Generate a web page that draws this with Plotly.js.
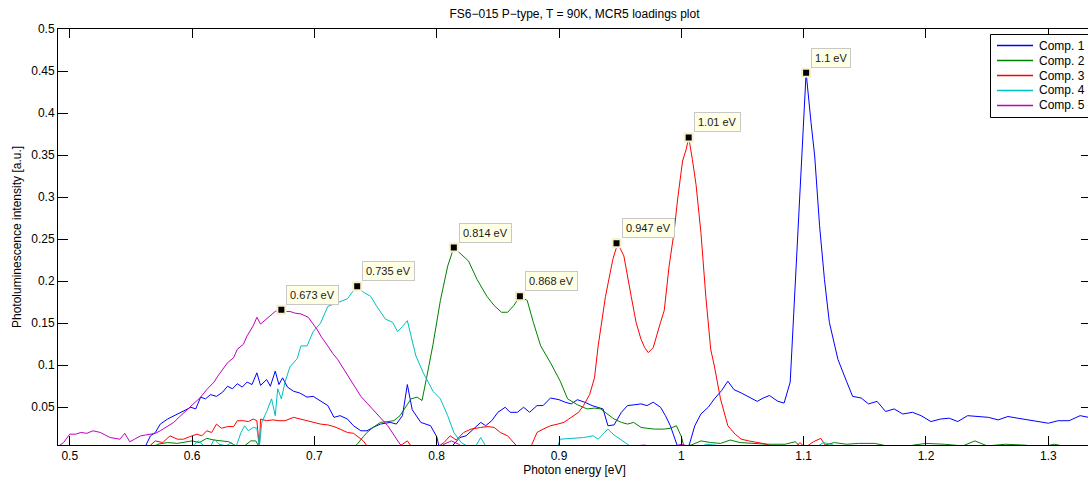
<!DOCTYPE html>
<html>
<head>
<meta charset="utf-8">
<script src="https://cdn.plot.ly/plotly-3.0.1.min.js"></script>
<style>
html,body{margin:0;padding:0;overflow:hidden;background:#fff;}
#chart{width:1100px;height:483px;}
</style>
</head>
<body>
<div id="chart"></div>
<script>
// ---------- data ----------
const seriesNames = ["Comp. 1", "Comp. 2", "Comp. 3", "Comp. 4", "Comp. 5"];

const comp1X = [0.49,0.555,0.562,0.566,0.570,0.574,0.580,0.585,0.590,0.595,0.599,0.603,0.607,0.611,0.615,0.620,0.625,0.629,0.633,0.637,0.641,0.645,0.649,0.653,0.656,0.661,0.664,0.668,0.671,0.674,0.678,0.683,0.688,0.694,0.699,0.705,0.711,0.716,0.721,0.727,0.732,0.738,0.743,0.748,0.754,0.758,0.762,0.767,0.772,0.776,0.780,0.787,0.795,0.800,0.802,0.812,0.819,0.824,0.830,0.836,0.840,0.845,0.850,0.856,0.860,0.866,0.871,0.876,0.882,0.887,0.893,0.900,0.905,0.910,0.915,0.921,0.927,0.932,0.936,0.940,0.945,0.951,0.956,0.962,0.967,0.972,0.977,0.983,0.987,0.991,0.997,1.006,1.011,1.016,1.022,1.027,1.033,1.038,1.043,1.049,1.054,1.058,1.062,1.067,1.072,1.079,1.084,1.089,1.091,1.095,1.099,1.102,1.106,1.109,1.113,1.117,1.121,1.124,1.128,1.135,1.140,1.147,1.153,1.160,1.167,1.174,1.181,1.189,1.196,1.204,1.212,1.219,1.226,1.234,1.242,1.251,1.259,1.267,1.275,1.284,1.292,1.300,1.308,1.317,1.326,1.333,1.34];
const comp1Y = [0,0,0.004,0.016,0.020,0.030,0.036,0.040,0.044,0.047,0.050,0.048,0.062,0.060,0.065,0.063,0.068,0.075,0.072,0.078,0.074,0.080,0.077,0.091,0.076,0.083,0.075,0.093,0.077,0.085,0.074,0.069,0.067,0.062,0.063,0.057,0.052,0.038,0.040,0.036,0.028,0.022,0.022,0.026,0.030,0.031,0.032,0.030,0.040,0.077,0.047,0.032,0.028,0.015,0.003,0.003,0.014,0.016,0.024,0.032,0.028,0.034,0.044,0.050,0.044,0.044,0.050,0.044,0.052,0.052,0.061,0.059,0.056,0.054,0.059,0.056,0.052,0.050,0.048,0.028,0.029,0.044,0.052,0.053,0.054,0.052,0.056,0.050,0.040,0.028,0.003,0.003,0.028,0.042,0.050,0.060,0.070,0.081,0.071,0.067,0.063,0.060,0.057,0.061,0.064,0.057,0.055,0.080,0.135,0.250,0.369,0.448,0.389,0.349,0.266,0.202,0.151,0.133,0.107,0.081,0.063,0.061,0.054,0.057,0.045,0.048,0.042,0.044,0.040,0.033,0.036,0.037,0.033,0.040,0.039,0.038,0.035,0.039,0.037,0.035,0.033,0.031,0.034,0.034,0.040,0.038,0.037];

const comp2X = [0.49,0.565,0.572,0.580,0.588,0.595,0.600,0.606,0.612,0.618,0.624,0.630,0.636,0.642,0.648,0.652,0.655,0.66,0.73,0.735,0.740,0.743,0.748,0.754,0.760,0.765,0.770,0.775,0.779,0.784,0.788,0.792,0.797,0.803,0.809,0.814,0.820,0.826,0.833,0.841,0.847,0.853,0.858,0.863,0.868,0.874,0.879,0.885,0.893,0.901,0.907,0.915,0.923,0.929,0.934,0.940,0.945,0.951,0.956,0.961,0.967,0.972,0.978,0.986,0.991,0.996,1.000,1.002,1.008,1.016,1.024,1.032,1.040,1.048,1.058,1.070,1.085,1.093,1.097,1.105,1.115,1.125,1.135,1.145,1.158,1.168,1.180,1.190,1.200,1.215,1.230,1.240,1.250,1.265,1.280,1.295,1.305,1.315,1.34];
const comp2Y = [0,0,0.006,0.008,0.007,0.009,0.010,0.008,0.013,0.011,0.010,0.009,0.004,0.003,0.010,0.010,0.003,0,0,0.006,0.015,0.020,0.026,0.032,0.033,0.034,0.040,0.052,0.060,0.062,0.058,0.087,0.125,0.177,0.218,0.240,0.232,0.224,0.202,0.182,0.171,0.163,0.163,0.171,0.182,0.177,0.151,0.123,0.103,0.081,0.060,0.053,0.048,0.049,0.048,0.042,0.036,0.032,0.030,0.032,0.026,0.025,0.024,0.024,0.025,0.028,0.015,0.004,0.005,0.010,0.008,0.007,0.011,0.008,0.007,0.006,0.006,0.009,0.004,0.002,0.004,0.008,0.006,0.007,0.007,0.004,0.002,0.005,0.007,0.006,0.004,0.010,0.004,0.006,0.005,0.003,0.006,0.003,0.004];

const comp3X = [0.49,0.560,0.566,0.570,0.576,0.582,0.588,0.593,0.598,0.604,0.608,0.612,0.616,0.620,0.624,0.629,0.634,0.637,0.642,0.646,0.650,0.653,0.655,0.656,0.661,0.666,0.671,0.676,0.683,0.688,0.694,0.699,0.705,0.711,0.716,0.721,0.727,0.732,0.736,0.740,0.743,0.748,0.765,0.770,0.776,0.780,0.800,0.806,0.811,0.816,0.822,0.828,0.836,0.842,0.847,0.852,0.858,0.862,0.866,0.877,0.882,0.887,0.893,0.899,0.904,0.908,0.912,0.916,0.920,0.925,0.929,0.932,0.938,0.944,0.948,0.953,0.959,0.963,0.967,0.970,0.973,0.977,0.983,0.986,0.990,0.994,0.997,1.001,1.004,1.006,1.009,1.012,1.016,1.020,1.024,1.027,1.032,1.038,1.044,1.049,1.055,1.062,1.070,1.075,1.093,1.097,1.101,1.108,1.114,1.118,1.125,1.34];
const comp3Y = [0,0,0.005,0.010,0.008,0.016,0.012,0.012,0.015,0.018,0.016,0.022,0.020,0.030,0.025,0.027,0.027,0.034,0.034,0.033,0.036,0.034,0.002,0.036,0.034,0.035,0.034,0.034,0.038,0.036,0.034,0.032,0.030,0.029,0.027,0.024,0.020,0.019,0.014,0.010,0.004,0,0,0.004,0.010,0.002,0.002,0.008,0.016,0.011,0.020,0.024,0.026,0.027,0.026,0.020,0.016,0.010,0.003,0.003,0.020,0.024,0.028,0.030,0.032,0.036,0.040,0.044,0.052,0.065,0.085,0.123,0.182,0.226,0.245,0.230,0.182,0.151,0.131,0.121,0.115,0.121,0.151,0.165,0.218,0.258,0.298,0.343,0.357,0.371,0.345,0.315,0.258,0.182,0.119,0.099,0.060,0.028,0.018,0.012,0.010,0.008,0.006,0.002,0.002,0.008,0.002,0.009,0.013,0.004,0,0];

const comp4X = [0.49,0.598,0.602,0.605,0.610,0.615,0.618,0.622,0.628,0.632,0.636,0.640,0.643,0.646,0.650,0.653,0.655,0.657,0.661,0.665,0.668,0.670,0.673,0.676,0.680,0.686,0.689,0.694,0.699,0.705,0.711,0.716,0.721,0.727,0.731,0.735,0.740,0.746,0.751,0.758,0.764,0.768,0.772,0.776,0.783,0.789,0.797,0.803,0.809,0.814,0.820,0.826,0.832,0.836,0.840,0.846,0.85,0.898,0.901,0.910,0.920,0.928,0.932,0.936,0.940,0.945,0.950,0.955,0.960,1.015,1.020,1.028,1.035,1.110,1.116,1.122,1.130,1.34];
const comp4Y = [0,0,0.006,0.010,0.004,0.003,0.012,0.006,0.004,0.008,0.003,0.020,0.028,0.022,0.026,0.025,0.003,0.032,0.045,0.060,0.040,0.072,0.060,0.080,0.098,0.108,0.123,0.123,0.140,0.150,0.170,0.173,0.176,0.179,0.187,0.194,0.187,0.182,0.170,0.155,0.151,0.140,0.146,0.153,0.111,0.091,0.069,0.060,0.040,0.020,0.008,0.003,0.004,0.014,0.004,0.003,0,0,0.012,0.013,0.014,0.016,0.012,0.018,0.024,0.017,0.012,0.006,0.002,0.002,0.006,0.005,0.002,0.002,0.008,0.006,0.002,0];

const comp5X = [0.49,0.495,0.500,0.505,0.509,0.514,0.519,0.525,0.529,0.533,0.537,0.541,0.545,0.549,0.553,0.558,0.562,0.566,0.570,0.574,0.580,0.585,0.590,0.596,0.601,0.607,0.612,0.618,0.621,0.625,0.629,0.634,0.637,0.642,0.645,0.650,0.653,0.656,0.661,0.665,0.668,0.673,0.677,0.680,0.684,0.689,0.695,0.702,0.706,0.711,0.715,0.719,0.723,0.727,0.733,0.738,0.743,0.748,0.754,0.760,0.765,0.770,0.775,0.800,0.806,0.812,0.818,0.822,0.86,0.865,0.875,0.88,0.95,0.960,0.970,0.975,0.995,1.000,1.005,1.01,1.34];
const comp5Y = [0.003,0.008,0.018,0.018,0.020,0.019,0.022,0.020,0.017,0.014,0.013,0.012,0.019,0.009,0.012,0.016,0.017,0.018,0.019,0.022,0.027,0.032,0.039,0.047,0.054,0.062,0.071,0.080,0.087,0.095,0.103,0.109,0.119,0.125,0.135,0.147,0.157,0.149,0.155,0.160,0.164,0.166,0.164,0.164,0.162,0.161,0.157,0.143,0.133,0.123,0.114,0.107,0.098,0.089,0.075,0.063,0.055,0.047,0.038,0.028,0.017,0.006,0,0,0.006,0.010,0.006,0.002,0,0.003,0.003,0,0,0.004,0.005,0.003,0.004,0.006,0.004,0,0];

const peakX = [0.673, 0.735, 0.814, 0.868, 0.947, 1.006, 1.102];
const peakY = [0.166, 0.194, 0.240, 0.182, 0.245, 0.371, 0.448];
const peakLabels = ["0.673 eV", "0.735 eV", "0.814 eV", "0.868 eV", "0.947 eV", "1.01 eV", "1.1 eV"];

const xTickVals = [0.5, 0.6, 0.7, 0.8, 0.9, 1.0, 1.1, 1.2, 1.3];
const xTickText = ["0.5", "0.6", "0.7", "0.8", "0.9", "1", "1.1", "1.2", "1.3"];
const yTickVals = [0.05, 0.1, 0.15, 0.2, 0.25, 0.3, 0.35, 0.4, 0.45, 0.5];
const yTickText = ["0.05", "0.1", "0.15", "0.2", "0.25", "0.3", "0.35", "0.4", "0.45", "0.5"];

// ---------- styling ----------
const colors = ["#0000ff", "#008000", "#ff0000", "#00bfbf", "#bf00bf"];
const xs = [comp1X, comp2X, comp3X, comp4X, comp5X];
const ys = [comp1Y, comp2Y, comp3Y, comp4Y, comp5Y];
const FONT = "Liberation Sans, Arial, Helvetica, sans-serif";

// plot-area geometry (pixels) used to place the compact MATLAB-style legend
const M = {l: 58, r: 9, t: 29, b: 38};
const W = 1100, H = 483;
const PW = W - M.l - M.r, PH = H - M.t - M.b;
const px2x = p => (p - M.l) / PW;
const px2y = p => (H - M.b - p) / PH;

const traces = seriesNames.map((n, i) => ({
  type: "scatter", mode: "lines", name: n,
  x: xs[i], y: ys[i],
  line: {color: colors[i], width: 1},
  hoverinfo: "skip", showlegend: false
}));

traces.push({
  type: "scatter", mode: "markers", showlegend: false,
  x: peakX, y: peakY,
  marker: {symbol: "square", size: 8, color: "#000000", line: {color: "#f7f0c8", width: 2}},
  hoverinfo: "skip", cliponaxis: false
});

const annotations = peakLabels.map((t, i) => ({
  xref: "x", yref: "y", x: peakX[i], y: peakY[i],
  text: t, showarrow: false,
  xanchor: "left", yanchor: "bottom", xshift: 5, yshift: 5,
  bgcolor: "#ffffe6", bordercolor: "#c8c8c8", borderwidth: 1, borderpad: 3,
  font: {family: FONT, size: 11, color: "#1a1a1a"}
}));

// legend box (compact, like MATLAB)
const shapes = [{
  type: "rect", xref: "paper", yref: "paper", layer: "above",
  x0: px2x(990.5), x1: px2x(1096), y0: px2y(117.5), y1: px2y(34.5),
  line: {color: "#000000", width: 1}, fillcolor: "#ffffff"
}];
seriesNames.forEach((n, i) => {
  const yc = 45.5 + i * 15;
  shapes.push({
    type: "line", xref: "paper", yref: "paper", layer: "above",
    x0: px2x(997), x1: px2x(1033), y0: px2y(yc), y1: px2y(yc),
    line: {color: colors[i], width: 1.3}
  });
  annotations.push({
    xref: "paper", yref: "paper", x: px2x(1037), y: px2y(yc),
    xanchor: "left", yanchor: "middle", showarrow: false,
    text: n, font: {family: FONT, size: 12, color: "#000000"}
  });
});

const axisCommon = {
  showgrid: false, zeroline: false,
  showline: true, linecolor: "#000000", linewidth: 1, mirror: "ticks",
  ticks: "inside", tickcolor: "#000000", tickwidth: 1,
  tickfont: {family: FONT, size: 12, color: "#000000"},
  automargin: false, fixedrange: true
};

const layout = {
  width: W, height: H,
  margin: {l: M.l, r: M.r, t: M.t, b: M.b, pad: 0},
  paper_bgcolor: "#ffffff", plot_bgcolor: "#ffffff",
  font: {family: FONT, size: 12, color: "#000000"},
  title: {
    text: "FS6\u2212015 P\u2212type, T = 90K, MCR5 loadings plot",
    font: {family: FONT, size: 12, color: "#000000"},
    xref: "paper", x: 0.5, xanchor: "center",
    yref: "container", y: 1 - 14 / 483, yanchor: "middle"
  },
  xaxis: Object.assign({}, axisCommon, {
    range: [0.4904, 1.3349],
    tickmode: "array", tickvals: xTickVals, ticktext: xTickText,
    ticklen: 9,
    title: {text: "Photon energy [eV]", font: {family: FONT, size: 12, color: "#000000"}, standoff: 2}
  }),
  yaxis: Object.assign({}, axisCommon, {
    range: [0.0051, 0.5],
    tickmode: "array", tickvals: yTickVals, ticktext: yTickText,
    ticklen: 10,
    title: {text: "Photoluminescence intensity [a.u.]", font: {family: FONT, size: 12, color: "#000000"}, standoff: 7}
  }),
  showlegend: false,
  shapes: shapes,
  annotations: annotations
};

Plotly.newPlot("chart", traces, layout, {displayModeBar: false, staticPlot: true});
</script>
</body>
</html>
